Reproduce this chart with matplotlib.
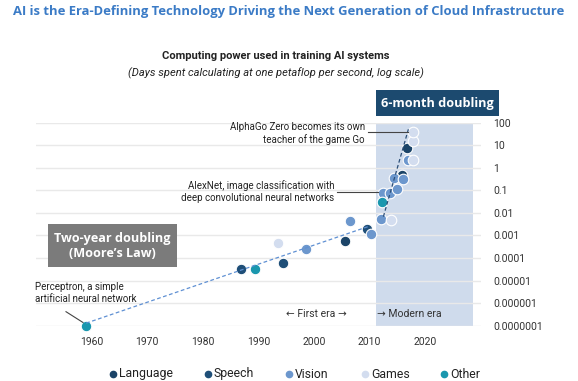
import matplotlib
matplotlib.use("Agg")
import matplotlib.pyplot as plt
from matplotlib.patches import Rectangle
from matplotlib.ticker import FixedLocator, FixedFormatter, NullLocator

# ---- data ----
categories = ["Language", "Speech", "Vision", "Games", "Other"]
colors = {"Language": "#1b4468", "Speech": "#1f4f78", "Vision": "#6c97cd",
          "Games": "#d3ddef", "Other": "#1a97ae"}

language_years = [2005.5, 2015.9, 2016.8]
language_vals = [5.5e-4, 0.48, 7.2]
speech_years = [1986.9, 1994.4, 2009.6]
speech_vals = [3.2e-5, 5.8e-5, 2.0e-3]
vision_years = [1998.5, 2006.5, 2010.3, 2012.1, 2012.4, 2013.7, 2014.9, 2014.5, 2016.1, 2016.9]
vision_vals = [2.4e-4, 4.2e-3, 1.15e-3, 5.4e-3, 0.074, 0.074, 0.115, 0.34, 0.32, 2.3]
games_years = [1993.5, 2013.9, 2017.8, 2017.9, 2017.9]
games_vals = [4.5e-4, 5.0e-3, 2.3, 16, 40]
other_years = [1959.0, 1989.3, 2012.3]
other_vals = [1.0e-7, 3.2e-5, 0.031]

first_era_years = [1959.0, 2009.8]
first_era_vals = [1.3e-7, 2.5e-3]
modern_era_years = [2012.5, 2017.0]
modern_era_vals = [6.8e-3, 51]

modern_start, modern_end = 2011.2, 2028.6

x_ticks = [1960, 1970, 1980, 1990, 2000, 2010, 2020]
y_ticks = [1e-7, 1e-6, 1e-5, 1e-4, 1e-3, 1e-2, 1e-1, 1, 10, 100]
y_tick_labels = ["0.0000001", "0.000001", "0.00001", "0.0001", "0.001",
                 "0.01", "0.1", "1", "10", "100"]

series = {
    "Language": (language_years, language_vals),
    "Speech": (speech_years, speech_vals),
    "Vision": (vision_years, vision_vals),
    "Games": (games_years, games_vals),
    "Other": (other_years, other_vals),
}

plt.rcParams['font.family'] = ['Roboto', 'DejaVu Sans']
W, H = 578, 381
fig = plt.figure(figsize=(W / 100, H / 100), dpi=100)

def fx(px):
    return px / W

def fy(py):
    return 1 - py / H

ax = fig.add_axes([fx(36.2), fy(325.7), fx(480.6) - fx(36.2), fy(122.7) - fy(325.7)])
ax.set_yscale("log")
ax.set_xlim(1950, 2030)
ax.set_ylim(1e-7, 100)
for s in ax.spines.values():
    s.set_visible(False)

ax.axvspan(modern_start, modern_end, color="#cfdbec", zorder=0, lw=0)
for yv in y_ticks:
    ax.axhline(yv, color="#e9e9e9", lw=1.0, zorder=1)

ax.yaxis.set_major_locator(FixedLocator(y_ticks))
ax.yaxis.set_major_formatter(FixedFormatter(y_tick_labels))
ax.yaxis.set_minor_locator(NullLocator())
ax.yaxis.tick_right()
ax.tick_params(axis="y", length=0, pad=9, labelsize=7.5, labelcolor="#333333")
ax.set_xticks(x_ticks)
ax.set_xticklabels([str(t) for t in x_ticks])
ax.tick_params(axis="x", length=0, pad=8, labelsize=7.5, labelcolor="#333333")
for lab in ax.get_yticklabels():
    lab.set_horizontalalignment("left")

for cat in categories:
    xs, ys = series[cat]
    ax.scatter(xs, ys, s=58, color=colors[cat], edgecolor="white", linewidth=0.8,
               zorder=3, clip_on=False)

ax.plot(first_era_years, first_era_vals, ls=(0, (3, 2)), color="#5f90d3", lw=0.9, zorder=4)
ax.plot(modern_era_years, modern_era_vals, ls=(0, (3, 2)), color="#2c4f78", lw=0.9, zorder=4)

# annotations
ann_color = "#222222"
fig.text(fx(365), fy(133.5), "AlphaGo Zero becomes its own\nteacher of the game Go",
         ha="right", va="center", fontsize=7, color=ann_color, linespacing=1.25)
fig.add_artist(plt.Line2D([fx(368), fx(408)], [fy(132.3), fy(132.3)], color="#444444", lw=0.8))
fig.text(fx(334), fy(191.7), "AlexNet, image classification with\ndeep convolutional neural networks",
         ha="right", va="center", fontsize=7, color=ann_color, linespacing=1.25)
fig.add_artist(plt.Line2D([fx(337), fx(378)], [fy(191.7), fy(191.7)], color="#444444", lw=0.8))
fig.text(fx(35), fy(293.3), "Perceptron, a simple\nartificial neural network",
         ha="left", va="center", fontsize=7, color=ann_color, linespacing=1.25)
fig.add_artist(plt.Line2D([fx(66), fx(83)], [fy(311.7), fy(322.5)], color="#444444", lw=0.8))

fig.text(fx(316), fy(314), "\u2190 First era \u2192", ha="center", va="center",
         fontsize=7.5, color="#333333", family=['Roboto', 'DejaVu Sans'])
fig.text(fx(377), fy(314), "\u2192 Modern era", ha="left", va="center",
         fontsize=7.5, color="#333333", family=['Roboto', 'DejaVu Sans'])

# boxes
fig.add_artist(Rectangle((fx(376), fy(116)), fx(499) - fx(376), fy(90) - fy(116),
                         transform=fig.transFigure, color="#1c4a6f", lw=0))
fig.text(fx(437.5), fy(103), "6-month doubling", ha="center", va="center",
         fontsize=9.1, color="white", fontweight="bold", family=['Open Sans', 'DejaVu Sans'])
fig.add_artist(Rectangle((fx(48), fy(267)), fx(177) - fx(48), fy(224) - fy(267),
                         transform=fig.transFigure, color="#7b7b7b", lw=0))
fig.text(fx(112.5), fy(246), "Two-year doubling\n(Moore\u2019s Law)", ha="center", va="center",
         fontsize=9.1, color="white", fontweight="bold", linespacing=1.15,
         family=['Open Sans', 'DejaVu Sans'])

# titles
fig.text(fx(289), fy(11), "AI is the Era-Defining Technology Driving the Next Generation of Cloud Infrastructure",
         ha="center", va="center", fontsize=9.4, fontweight="bold", color="#3b7bc6",
         family=['Open Sans', 'DejaVu Sans'])
fig.text(fx(276), fy(56), "Computing power used in training AI systems", ha="center", va="center",
         fontsize=8, fontweight="bold", color="#222222")
fig.text(fx(276), fy(73), "(Days spent calculating at one petaflop per second, log scale)",
         ha="center", va="center", fontsize=8, style="italic", color="#222222")

# legend (manually placed entries)
legend_x = [112.7, 207.7, 289.3, 365, 444.3]
for cat, lx in zip(categories, legend_x):
    fig.add_artist(plt.Line2D([fx(lx)], [fy(374)], marker="o", ls="", color=colors[cat],
                              markersize=4.5))
    fig.text(fx(lx + 6), fy(374), cat, ha="left", va="center", fontsize=8.8, color="#222222")

fig.savefig("out.png", dpi=100)
